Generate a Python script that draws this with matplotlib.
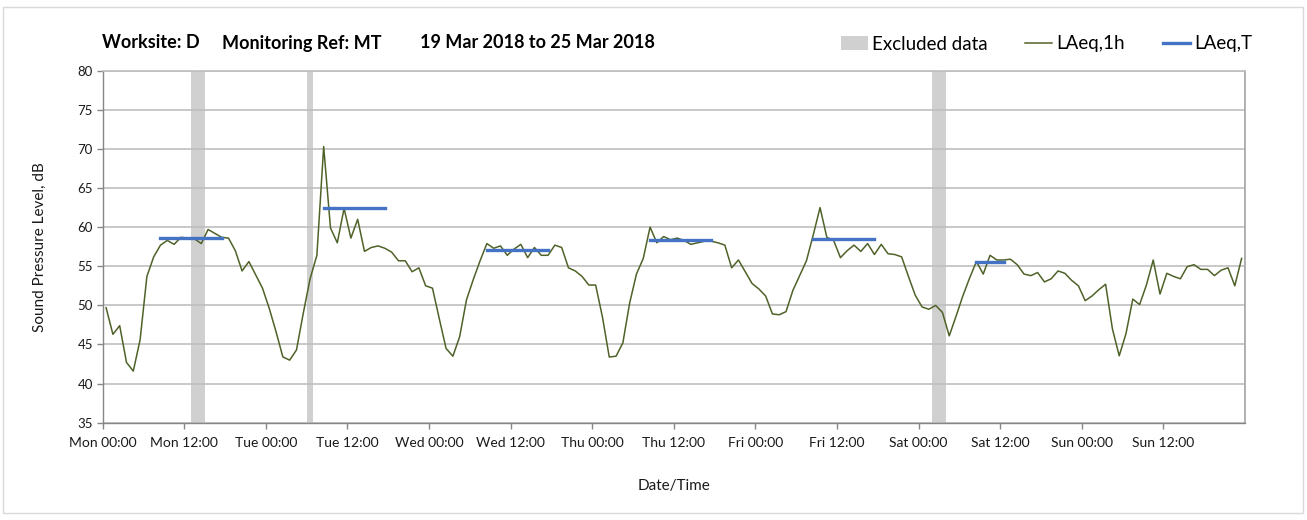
import matplotlib
matplotlib.use("Agg")
import matplotlib.pyplot as plt
import matplotlib.patches as mpatches
from matplotlib.lines import Line2D
import numpy as np

plt.rcParams['font.family'] = ['Lato', 'DejaVu Sans']

# ---------------- data ----------------
title_parts = ["Worksite: D", "Monitoring Ref: MT", "19 Mar 2018 to 25 Mar 2018"]
tick_labels = ["Mon 00:00", "Mon 12:00", "Tue 00:00", "Tue 12:00", "Wed 00:00", "Wed 12:00",
               "Thu 00:00", "Thu 12:00", "Fri 00:00", "Fri 12:00", "Sat 00:00", "Sat 12:00",
               "Sun 00:00", "Sun 12:00"]

# hourly LAeq,1h values (hours 0..167 from Mon 00:00)
laeq_1h = [
    49.7, 46.3, 47.4, 42.7, 41.6, 45.6, 53.7, 56.2, 57.7, 58.3, 57.8, 58.7,
    58.6, 58.5, 57.9, 59.7, 59.2, 58.7, 58.6, 57.0, 54.4, 55.6, 53.9, 52.2,
    49.6, 46.6, 43.4, 43.0, 44.3, 49.0, 53.4, 56.4, 70.3, 59.9, 58.0, 62.4,
    58.6, 61.0, 56.9, 57.4, 57.6, 57.3, 56.8, 55.7, 55.7, 54.3, 54.8, 52.5,
    52.2, 48.3, 44.5, 43.5, 46.0, 50.7, 53.3, 55.7, 57.9, 57.3, 57.6, 56.4,
    57.2, 57.8, 56.1, 57.4, 56.4, 56.4, 57.7, 57.4, 54.8, 54.4, 53.7, 52.6,
    52.6, 48.5, 43.4, 43.5, 45.2, 50.3, 54.0, 56.0, 60.0, 58.0, 58.8, 58.4,
    58.6, 58.3, 57.8, 58.0, 58.2, 58.2, 58.0, 57.7, 54.8, 55.8, 54.3, 52.8,
    52.1, 51.2, 48.9, 48.8, 49.2, 51.9, 53.8, 55.7, 59.0, 62.5, 58.7, 58.3,
    56.1, 57.0, 57.7, 56.9, 57.9, 56.5, 57.8, 56.6, 56.5, 56.2, 53.7, 51.3,
    49.8, 49.5, 50.0, 49.1, 46.1, 48.6, 51.2, 53.5, 55.6, 54.0, 56.4, 55.8,
    55.8, 55.9, 55.2, 54.0, 53.8, 54.2, 53.0, 53.4, 54.4, 54.1, 53.2, 52.5,
    50.6, 51.2, 52.0, 52.7, 47.0, 43.55, 46.4, 50.8, 50.1, 52.6, 55.8, 51.45,
    54.1, 53.7, 53.4, 54.95, 55.2, 54.6, 54.6, 53.8, 54.5, 54.8, 52.5, 56.0,
]

# LAeq,T periods: (first hour, last hour, value)
laeq_T_start = [8, 32, 56, 80, 104, 128]
laeq_T_end = [17, 41, 65, 89, 113, 132]
laeq_T_value = [58.6, 62.5, 57.1, 58.4, 58.5, 55.5]

# excluded periods (start hour, end hour)
excl_start = [13, 30, 122]
excl_end = [15, 31, 124]

# ---------------- figure ----------------
W, H = 1307, 520
fig = plt.figure(figsize=(W / 100, H / 100), dpi=100)
fig.patch.set_facecolor("white")

# chart-area border
fig.patches.append(mpatches.Rectangle((3 / W, 7 / H), 1300 / W, 506 / H,
                                      transform=fig.transFigure, fill=False,
                                      edgecolor="#D9D9D9", linewidth=1.0))

ax = fig.add_axes([102.7 / W, 1 - 422.7 / H, (1245 - 102.7) / W, (422.7 - 70.7) / H])

hours = np.arange(len(laeq_1h)) + 0.5

for s, e in zip(excl_start, excl_end):
    ax.axvspan(s, e, color="#D0D0D0", zorder=0.3, linewidth=0)

ax.plot(hours, laeq_1h, color="#4F6228", linewidth=1.1, zorder=3)

for s, e, v in zip(laeq_T_start, laeq_T_end, laeq_T_value):
    ax.plot([s + 0.5, e + 0.5], [v, v], color="#4472C4", linewidth=2.4,
            solid_capstyle="projecting", zorder=4)

ax.set_xlim(0, 168)
ax.set_ylim(35, 80)
ax.set_xticks(np.arange(0, 168, 12))
ax.set_xticklabels(tick_labels)
ax.set_xticks(np.arange(0, 169, 24), minor=True)
ax.set_yticks(np.arange(35, 81, 5))

ax.set_axisbelow(True)
ax.grid(axis="y", which="major", color="#BFBFBF", linewidth=1.2, zorder=0.5)
ax.grid(axis="x", which="minor", color="#D9D9D9", linewidth=1.3, zorder=0.5)
ax.grid(axis="x", which="major", visible=False)

for side in ["left", "bottom"]:
    ax.spines[side].set_color("#868686")
    ax.spines[side].set_linewidth(1.0)
ax.spines["right"].set_color("#A6A6A6")
ax.spines["right"].set_linewidth(1.2)
ax.spines["top"].set_color("#BFBFBF")
ax.spines["top"].set_linewidth(1.2)

ax.tick_params(axis="x", which="major", direction="out", length=4, width=1,
               color="#868686", labelsize=10, labelcolor="#1A1A1A", pad=6)
ax.tick_params(axis="x", which="minor", length=0)
ax.tick_params(axis="y", direction="out", length=4, width=1, color="#868686",
               labelsize=9.5, labelcolor="#1A1A1A", pad=3)

ax.set_xlabel("Date/Time", fontsize=11, color="#1A1A1A", labelpad=22)
ax.set_ylabel("Sound Pressure Level, dB", fontsize=11, color="#1A1A1A", labelpad=22)

# title (three parts with Excel-like spacing)
title_x = [102 / W, 222 / W, 420 / W]
for tx, txt in zip(title_x, title_parts):
    fig.text(tx, 1 - 43 / H, txt, fontsize=13, fontweight="bold",
             ha="left", va="center", color="#000000")

# legend
handles = [mpatches.Patch(facecolor="#D0D0D0", edgecolor="none"),
           Line2D([], [], color="#4F6228", linewidth=1.1),
           Line2D([], [], color="#4472C4", linewidth=2.4)]
labels = ["Excluded data", "LAeq,1h", "LAeq,T"]
fig.legend(handles, labels, ncol=3, loc="center right",
           bbox_to_anchor=(1252 / W, 1 - 44 / H), frameon=False,
           fontsize=13.5, handlelength=1.45, handletextpad=0.22,
           columnspacing=2.0, borderaxespad=0, borderpad=0)

fig.savefig("out.png", dpi=100, facecolor="white")
